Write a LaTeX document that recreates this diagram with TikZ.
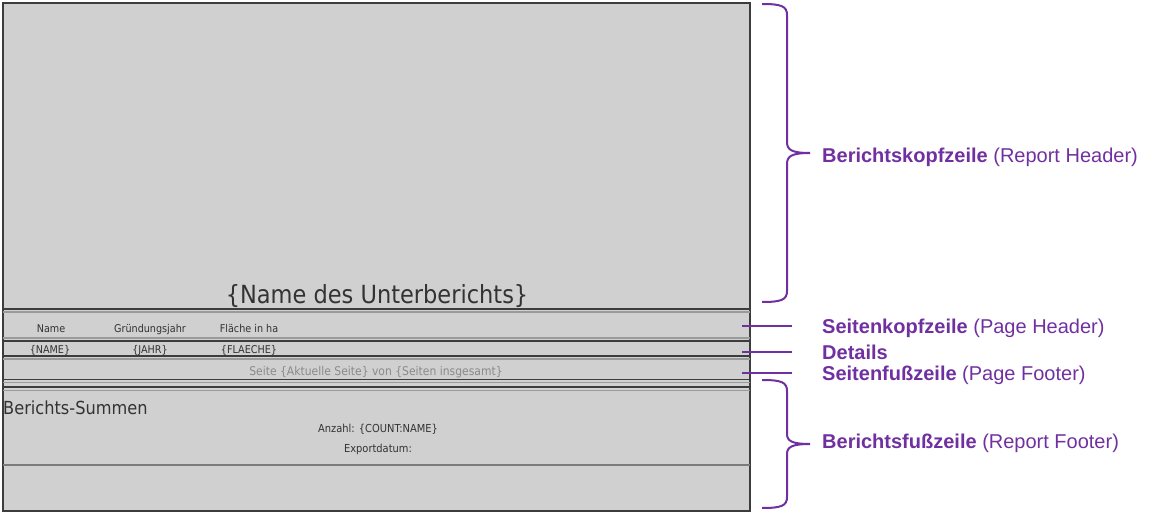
\documentclass[tikz,border=0pt]{standalone}
\usepackage{fontspec}
\setmainfont{Liberation Sans}
\newfontfamily\bandfont{DejaVu Sans Condensed}
\usetikzlibrary{positioning}

\definecolor{bandfill}{HTML}{D0D0D0}
\definecolor{banddark}{HTML}{3C3C3C}
\definecolor{bandlight}{HTML}{9A9A9A}
\definecolor{bandtext}{HTML}{333333}
\definecolor{pagetext}{HTML}{8A8A8A}
\definecolor{lila}{HTML}{7030A0}

\tikzset{
  darkline/.style={draw=banddark, line width=1.1pt},
  lightline/.style={draw=bandlight, line width=1.1pt},
  field/.style={font=\bandfont\fontsize{10.7}{12}\selectfont, text=bandtext, inner sep=0pt, anchor=base},
  marker/.style={draw=lila, line width=2pt},
  label/.style={font=\fontsize{20}{23}\selectfont, text=lila, inner sep=0pt, anchor=base west}
}

\begin{document}
\begin{tikzpicture}[x=1pt, y=-1pt]
\useasboundingbox (0,0) rectangle (1158,513);

% report layout
\draw[fill=bandfill, draw=banddark, line width=1.5pt] (3,3) rectangle (750,511);

\draw[darkline] (3,309) -- (750,309);
\draw[lightline] (3,312) -- (750,312);
\draw[lightline] (3,338) -- (750,338);
\draw[darkline] (3,341) -- (750,341);
\draw[darkline] (3,356) -- (750,356);
\draw[lightline] (3,359) -- (750,359);
\draw[darkline] (3,379.5) -- (750,379.5);
\draw[lightline] (3,382.5) -- (750,382.5);
\draw[darkline] (3,387) -- (750,387);
\draw[lightline] (3,390.5) -- (750,390.5);
\draw[darkline, draw=bandlight!80!black] (3,465) -- (750,465);

\node[field, font=\bandfont\fontsize{25}{28}\selectfont] (title) at (377,303) {\{Name des Unterberichts\}};

\node[field] (colname) at (51,332) {Name};
\node[field] (coljahr) at (150,332) {Gründungsjahr};
\node[field] (colflaeche) at (249,332) {Fläche in ha};

\node[field] (valname) at (50,353) {\{NAME\}};
\node[field] (valjahr) at (150,353) {\{JAHR\}};
\node[field] (valflaeche) at (249,353) {\{FLAECHE\}};

\node[field, text=pagetext, font=\bandfont\fontsize{12}{14}\selectfont] (seite) at (376,375) {Seite \{Aktuelle Seite\} von \{Seiten insgesamt\}};

\node[field, anchor=base west, font=\bandfont\fontsize{18}{21}\selectfont] (summen) at (3,414) {Berichts-Summen};
\node[field, font=\bandfont\fontsize{11}{13}\selectfont] (anzahl) at (378,432) {Anzahl: \{COUNT:NAME\}};
\node[field, font=\bandfont\fontsize{11}{13}\selectfont] (export) at (378,452) {Exportdatum:};

% braces
\draw[marker] (762,4) .. controls (781,4) and (787,6) .. (787,15) -- (787,142)
  .. controls (787,150) and (792,153) .. (810,153)
  .. controls (792,153) and (787,156) .. (787,164) -- (787,291)
  .. controls (787,300) and (781,302) .. (762,302);
\draw[marker] (762,380) .. controls (781,380) and (787,382) .. (787,391) -- (787,434)
  .. controls (787,441) and (792,444) .. (810,444)
  .. controls (792,444) and (787,447) .. (787,454) -- (787,497)
  .. controls (787,506) and (781,508) .. (762,508);
\coordinate (kopftip) at (810,157);
\coordinate (fusstip) at (810,443);

% pointers
\coordinate (hdstart) at (742,326);
\coordinate (hdend) at (792,326);
\coordinate (dtstart) at (742,352);
\coordinate (dtend) at (792,352);
\coordinate (ftstart) at (742,373);
\coordinate (ftend) at (792,373);
\draw[marker] (hdstart) -- (hdend);
\draw[marker] (dtstart) -- (dtend);
\draw[marker] (ftstart) -- (ftend);

\node[label, right=12pt of kopftip] (kopf) {\textbf{Berichtskopfzeile} (Report Header)};
\node[label] (seitenkopf) at (822,333) {\textbf{Seitenkopfzeile} (Page Header)};
\node[label] (details) at (822,359) {\textbf{Details}};
\node[label] (seitenfuss) at (822,380.5) {\textbf{Seitenfußzeile} (Page Footer)};
\node[label, right=12pt of fusstip] (fuss) {\textbf{Berichtsfußzeile} (Report Footer)};
\end{tikzpicture}
\end{document}
